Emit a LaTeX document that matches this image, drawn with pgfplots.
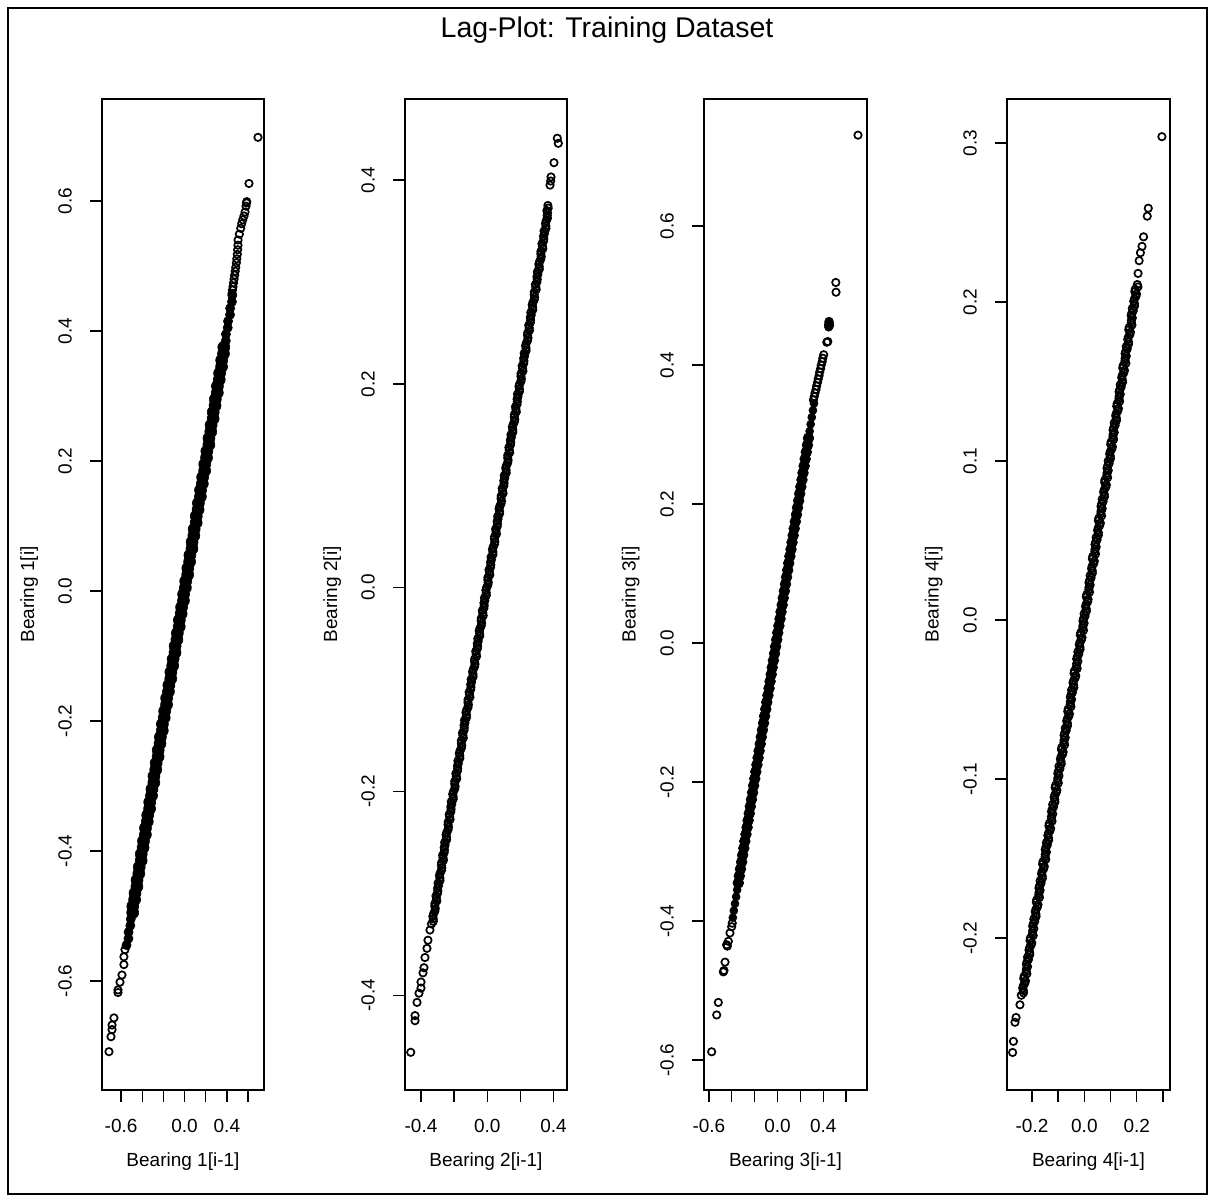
\documentclass[border=0pt]{standalone}
\usepackage{fontspec}
\setmainfont{Liberation Sans}
\usepackage{pgfplots}
\pgfplotsset{compat=1.18}
\newcommand{\rfont}{\fontsize{9.5pt}{11pt}\selectfont}
\pgfplotsset{
  rbase/.style={
    scale only axis, anchor=south west,
    height=495.5pt,
    axis line style={line width=0.7pt},
    tick style={black, line width=0.7pt},
    major tick length=6pt, tick align=outside,
    xtick pos=bottom, ytick pos=left,
    minor tick num=0, scaled ticks=false,
    xticklabel style={anchor=center, yshift=-12pt, font=\rfont},
    yticklabel style={xshift=-12.5pt, rotate=90, anchor=center, font=\rfont},
    label style={font=\rfont},
    xlabel style={at={(axis description cs:0.5,-0.0726)}, anchor=center},
    ylabel style={at={(axis description cs:-0.45,0.5)}, anchor=center},
  },
  opn/.style={only marks, mark=o, mark size=1.85pt, mark options={line width=0.85pt}, black},
  fld/.style={only marks, mark=*, mark size=#1, mark options={line width=0.3pt, fill=black}, black},
}
\begin{document}
\begin{tikzpicture}
\path (0,0) rectangle (606.5pt,600pt);
\draw[line width=1pt] (4pt,3pt) rectangle (603.5pt,596pt);
\node[font=\fontsize{14.25pt}{17pt}\selectfont] at (303.5pt,585pt) {Lag-Plot: Training Dataset};

% ---------------- Panel 1 ----------------
\begin{axis}[rbase, at={(51pt,55pt)}, width=81pt,
  xmin=-0.780, xmax=0.751, ymin=-0.768, ymax=0.757,
  xtick={-0.6,-0.4,-0.2,0,0.2,0.4,0.6}, xticklabels={-0.6,{},{},0.0,{},0.4,{}},
  ytick={-0.6,-0.4,-0.2,0,0.2,0.4,0.6}, yticklabels={-0.6,-0.4,-0.2,0.0,0.2,0.4,0.6},
  xlabel={Bearing 1[i-1]}, ylabel={Bearing 1[i]}]
\addplot[fld=3pt] coordinates {
(-0.490,-0.495)(-0.489,-0.485)(-0.472,-0.475)(-0.468,-0.465)(-0.450,-0.455)(-0.449,-0.445)
(-0.432,-0.435)(-0.428,-0.425)(-0.410,-0.415)(-0.409,-0.405)(-0.392,-0.395)(-0.388,-0.385)
(-0.370,-0.375)(-0.369,-0.365)(-0.352,-0.355)(-0.348,-0.345)(-0.330,-0.335)(-0.329,-0.325)
(-0.312,-0.315)(-0.308,-0.305)(-0.290,-0.295)(-0.289,-0.285)(-0.272,-0.275)(-0.268,-0.265)
(-0.250,-0.255)(-0.249,-0.245)(-0.232,-0.235)(-0.228,-0.225)(-0.210,-0.215)(-0.209,-0.205)
(-0.192,-0.195)(-0.188,-0.185)(-0.170,-0.175)(-0.169,-0.165)(-0.152,-0.155)(-0.148,-0.145)
(-0.130,-0.135)(-0.129,-0.125)(-0.112,-0.115)(-0.108,-0.105)(-0.090,-0.095)(-0.089,-0.085)
(-0.072,-0.075)(-0.068,-0.065)(-0.050,-0.055)(-0.049,-0.045)(-0.032,-0.035)(-0.028,-0.025)
(-0.010,-0.015)(-0.009,-0.005)(0.008,0.005)(0.011,0.015)(0.030,0.025)(0.031,0.035)
(0.048,0.045)(0.051,0.055)(0.070,0.065)(0.071,0.075)(0.088,0.085)(0.091,0.095)
(0.110,0.105)(0.111,0.115)(0.128,0.125)(0.131,0.135)(0.150,0.145)(0.151,0.155)
(0.168,0.165)(0.171,0.175)(0.190,0.185)(0.191,0.195)(0.208,0.205)(0.211,0.215)
(0.230,0.225)(0.231,0.235)(0.248,0.245)(0.251,0.255)(0.270,0.265)(0.271,0.275)
(0.288,0.285)(0.291,0.295)(0.310,0.305)(0.311,0.315)(0.328,0.325)(0.331,0.335)
(0.350,0.345)(0.351,0.355)(0.368,0.365)(0.371,0.375)
};
\addplot[fld=2.3pt] coordinates {
(-0.548,-0.545)(-0.530,-0.535)(-0.529,-0.525)(-0.512,-0.515)(-0.508,-0.505)
(0.390,0.385)(0.391,0.395)(0.408,0.405)(0.411,0.415)(0.430,0.425)(0.431,0.435)(0.448,0.445)(0.451,0.455)
};
\addplot[opn] coordinates {
(-0.714,-0.709)(-0.695,-0.686)(-0.685,-0.675)(-0.685,-0.668)(-0.667,-0.657)(-0.629,-0.618)
(-0.629,-0.614)(-0.610,-0.602)(-0.591,-0.591)(-0.573,-0.575)(-0.573,-0.563)(-0.563,-0.552)
(0.449,0.458)(0.453,0.463)(0.458,0.468)(0.463,0.474)(0.468,0.480)(0.474,0.486)(0.479,0.492)
(0.484,0.498)(0.490,0.505)(0.494,0.511)(0.499,0.518)(0.502,0.525)(0.505,0.532)(0.506,0.540)
(0.518,0.549)(0.531,0.558)(0.540,0.565)(0.550,0.571)(0.562,0.577)(0.572,0.583)(0.581,0.592)
(0.586,0.597)(0.588,0.599)(0.609,0.627)(0.694,0.698)
};
\end{axis}

% ---------------- Panel 2 ----------------
\begin{axis}[rbase, at={(202.5pt,55pt)}, width=81pt,
  xmin=-0.4966, xmax=0.4815, ymin=-0.493, ymax=0.4795,
  xtick={-0.4,-0.2,0,0.2,0.4}, xticklabels={-0.4,{},0.0,{},0.4},
  ytick={-0.4,-0.2,0,0.2,0.4}, yticklabels={-0.4,-0.2,0.0,0.2,0.4},
  xlabel={Bearing 2[i-1]}, ylabel={Bearing 2[i]}]
\addplot[opn] coordinates {
(-0.462,-0.456)(-0.436,-0.425)(-0.436,-0.420)(-0.424,-0.407)(-0.412,-0.398)(-0.400,-0.393)
(-0.400,-0.387)(-0.388,-0.378)(-0.382,-0.373)(-0.376,-0.363)(-0.364,-0.354)(-0.358,-0.346)
(-0.346,-0.336)
(-0.337,-0.330)(-0.326,-0.325)(-0.324,-0.320)(-0.314,-0.315)(-0.316,-0.310)(-0.307,-0.305)
(-0.300,-0.300)(-0.300,-0.295)(-0.297,-0.290)(-0.286,-0.285)(-0.284,-0.280)(-0.274,-0.275)
(-0.276,-0.270)(-0.267,-0.265)(-0.260,-0.260)(-0.260,-0.255)(-0.257,-0.250)(-0.246,-0.245)
(-0.244,-0.240)(-0.234,-0.235)(-0.236,-0.230)(-0.227,-0.225)(-0.220,-0.220)(-0.220,-0.215)
(-0.217,-0.210)(-0.206,-0.205)(-0.204,-0.200)(-0.194,-0.195)(-0.196,-0.190)(-0.187,-0.185)
(-0.180,-0.180)(-0.180,-0.175)(-0.177,-0.170)(-0.166,-0.165)(-0.164,-0.160)(-0.154,-0.155)
(-0.156,-0.150)(-0.147,-0.145)(-0.140,-0.140)(-0.140,-0.135)(-0.137,-0.130)(-0.126,-0.125)
(-0.124,-0.120)(-0.114,-0.115)(-0.116,-0.110)(-0.107,-0.105)(-0.100,-0.100)(-0.100,-0.095)
(-0.097,-0.090)(-0.086,-0.085)(-0.084,-0.080)(-0.074,-0.075)(-0.076,-0.070)(-0.067,-0.065)
(-0.060,-0.060)(-0.060,-0.055)(-0.057,-0.050)(-0.046,-0.045)(-0.044,-0.040)(-0.034,-0.035)
(-0.036,-0.030)(-0.027,-0.025)(-0.020,-0.020)(-0.020,-0.015)(-0.017,-0.010)(-0.006,-0.005)
(-0.004,0.000)(0.006,0.005)(0.004,0.010)(0.013,0.015)(0.020,0.020)(0.020,0.025)
(0.023,0.030)(0.034,0.035)(0.036,0.040)(0.046,0.045)(0.044,0.050)(0.053,0.055)
(0.060,0.060)(0.060,0.065)(0.063,0.070)(0.074,0.075)(0.076,0.080)(0.086,0.085)
(0.084,0.090)(0.093,0.095)(0.100,0.100)(0.100,0.105)(0.103,0.110)(0.114,0.115)
(0.116,0.120)(0.126,0.125)(0.124,0.130)(0.133,0.135)(0.140,0.140)(0.140,0.145)
(0.143,0.150)(0.154,0.155)(0.156,0.160)(0.166,0.165)(0.164,0.170)(0.173,0.175)
(0.180,0.180)(0.180,0.185)(0.183,0.190)(0.194,0.195)(0.196,0.200)(0.206,0.205)
(0.204,0.210)(0.213,0.215)(0.220,0.220)(0.220,0.225)(0.223,0.230)(0.234,0.235)
(0.236,0.240)(0.246,0.245)(0.244,0.250)(0.253,0.255)(0.260,0.260)(0.260,0.265)
(0.263,0.270)(0.274,0.275)(0.276,0.280)(0.286,0.285)(0.284,0.290)(0.293,0.295)
(0.300,0.300)(0.300,0.305)(0.303,0.310)(0.314,0.315)(0.316,0.320)(0.326,0.325)
(0.324,0.330)(0.333,0.335)(0.340,0.340)(0.340,0.345)(0.343,0.350)(0.354,0.355)
(0.356,0.360)(0.362,0.365)(0.360,0.370)(0.366,0.375)
(0.379,0.395)(0.383,0.399)(0.385,0.403)(0.403,0.417)(0.423,0.441)(0.429,0.436)
};
\addplot[opn] coordinates {
(-0.3255,-0.3275)(-0.3285,-0.3225)(-0.3165,-0.3175)(-0.3165,-0.3125)(-0.3045,-0.3075)(-0.3095,-0.3025)
(-0.2985,-0.2975)(-0.2945,-0.2925)(-0.2855,-0.2875)(-0.2885,-0.2825)(-0.2765,-0.2775)(-0.2765,-0.2725)
(-0.2645,-0.2675)(-0.2695,-0.2625)(-0.2585,-0.2575)(-0.2545,-0.2525)(-0.2455,-0.2475)(-0.2485,-0.2425)
(-0.2365,-0.2375)(-0.2365,-0.2325)(-0.2245,-0.2275)(-0.2295,-0.2225)(-0.2185,-0.2175)(-0.2145,-0.2125)
(-0.2055,-0.2075)(-0.2085,-0.2025)(-0.1965,-0.1975)(-0.1965,-0.1925)(-0.1845,-0.1875)(-0.1895,-0.1825)
(-0.1785,-0.1775)(-0.1745,-0.1725)(-0.1655,-0.1675)(-0.1685,-0.1625)(-0.1565,-0.1575)(-0.1565,-0.1525)
(-0.1445,-0.1475)(-0.1495,-0.1425)(-0.1385,-0.1375)(-0.1345,-0.1325)(-0.1255,-0.1275)(-0.1285,-0.1225)
(-0.1165,-0.1175)(-0.1165,-0.1125)(-0.1045,-0.1075)(-0.1095,-0.1025)(-0.0985,-0.0975)(-0.0945,-0.0925)
(-0.0855,-0.0875)(-0.0885,-0.0825)(-0.0765,-0.0775)(-0.0765,-0.0725)(-0.0645,-0.0675)(-0.0695,-0.0625)
(-0.0585,-0.0575)(-0.0545,-0.0525)(-0.0455,-0.0475)(-0.0485,-0.0425)(-0.0365,-0.0375)(-0.0365,-0.0325)
(-0.0245,-0.0275)(-0.0295,-0.0225)(-0.0185,-0.0175)(-0.0145,-0.0125)(-0.0055,-0.0075)(-0.0085,-0.0025)
(0.0035,0.0025)(0.0035,0.0075)(0.0155,0.0125)(0.0105,0.0175)(0.0215,0.0225)(0.0255,0.0275)
(0.0345,0.0325)(0.0315,0.0375)(0.0435,0.0425)(0.0435,0.0475)(0.0555,0.0525)(0.0505,0.0575)
(0.0615,0.0625)(0.0655,0.0675)(0.0745,0.0725)(0.0715,0.0775)(0.0835,0.0825)(0.0835,0.0875)
(0.0955,0.0925)(0.0905,0.0975)(0.1015,0.1025)(0.1055,0.1075)(0.1145,0.1125)(0.1115,0.1175)
(0.1235,0.1225)(0.1235,0.1275)(0.1355,0.1325)(0.1305,0.1375)(0.1415,0.1425)(0.1455,0.1475)
(0.1545,0.1525)(0.1515,0.1575)(0.1635,0.1625)(0.1635,0.1675)(0.1755,0.1725)(0.1705,0.1775)
(0.1815,0.1825)(0.1855,0.1875)(0.1945,0.1925)(0.1915,0.1975)(0.2035,0.2025)(0.2035,0.2075)
(0.2155,0.2125)(0.2105,0.2175)(0.2215,0.2225)(0.2255,0.2275)(0.2345,0.2325)(0.2315,0.2375)
(0.2435,0.2425)(0.2435,0.2475)(0.2555,0.2525)(0.2505,0.2575)(0.2615,0.2625)(0.2655,0.2675)
(0.2745,0.2725)(0.2715,0.2775)(0.2835,0.2825)(0.2835,0.2875)(0.2955,0.2925)(0.2905,0.2975)
(0.3015,0.3025)(0.3055,0.3075)(0.3145,0.3125)(0.3115,0.3175)(0.3235,0.3225)(0.3235,0.3275)
(0.3355,0.3325)(0.3305,0.3375)(0.3415,0.3425)(0.3455,0.3475)(0.3545,0.3525)(0.3515,0.3575)
(0.3635,0.3625)(0.3635,0.3675)(0.3680,0.3725)
};
\end{axis}

% ---------------- Panel 3 ----------------
\begin{axis}[rbase, at={(352pt,55pt)}, width=81.5pt,
  xmin=-0.643, xmax=0.783, ymin=-0.643, ymax=0.783,
  xtick={-0.6,-0.4,-0.2,0,0.2,0.4,0.6}, xticklabels={-0.6,{},{},0.0,{},0.4,{}},
  ytick={-0.6,-0.4,-0.2,0,0.2,0.4,0.6}, yticklabels={-0.6,-0.4,-0.2,0.0,0.2,0.4,0.6},
  xlabel={Bearing 3[i-1]}, ylabel={Bearing 3[i]}]
\addplot[fld=2.7pt] coordinates {
(-0.343,-0.345)(-0.334,-0.335)(-0.324,-0.325)(-0.314,-0.315)(-0.305,-0.305)(-0.295,-0.295)
(-0.286,-0.285)(-0.276,-0.275)(-0.266,-0.265)(-0.257,-0.255)(-0.247,-0.245)(-0.238,-0.235)
(-0.228,-0.225)(-0.218,-0.215)(-0.209,-0.205)(-0.199,-0.195)(-0.190,-0.185)(-0.180,-0.175)
(-0.170,-0.165)(-0.161,-0.155)(-0.151,-0.145)(-0.142,-0.135)(-0.132,-0.125)(-0.122,-0.115)
(-0.113,-0.105)(-0.103,-0.095)(-0.094,-0.085)(-0.084,-0.075)(-0.074,-0.065)(-0.065,-0.055)
(-0.055,-0.045)(-0.046,-0.035)(-0.036,-0.025)(-0.026,-0.015)(-0.017,-0.005)(-0.007,0.005)
(0.002,0.015)(0.012,0.025)(0.022,0.035)(0.031,0.045)(0.041,0.055)(0.050,0.065)
(0.060,0.075)(0.070,0.085)(0.079,0.095)(0.089,0.105)(0.098,0.115)(0.108,0.125)
(0.118,0.135)(0.127,0.145)(0.137,0.155)(0.146,0.165)(0.156,0.175)(0.166,0.185)
(0.175,0.195)(0.185,0.205)(0.194,0.215)(0.204,0.225)(0.214,0.235)(0.223,0.245)
(0.233,0.255)(0.242,0.265)(0.252,0.275)(0.262,0.285)(0.271,0.295)
};
\addplot[fld=2pt] coordinates {
(-0.391,-0.395)(-0.382,-0.385)(-0.372,-0.375)(-0.362,-0.365)(-0.353,-0.355)
(0.281,0.305)(0.290,0.315)(0.300,0.325)(0.310,0.335)(0.319,0.345)
};
\addplot[opn] coordinates {
(-0.576,-0.588)(-0.532,-0.535)(-0.518,-0.517)(-0.474,-0.473)(-0.468,-0.471)(-0.459,-0.459)
(-0.439,-0.436)(-0.445,-0.434)(-0.430,-0.429)(-0.416,-0.417)(-0.401,-0.408)(-0.396,-0.403)
(0.314,0.350)(0.322,0.355)(0.328,0.360)(0.337,0.365)(0.342,0.370)(0.350,0.375)(0.356,0.380)
(0.364,0.385)(0.369,0.390)(0.377,0.395)(0.382,0.400)(0.391,0.405)(0.396,0.410)(0.404,0.415)
(0.431,0.433)(0.440,0.434)(0.446,0.458)(0.450,0.462)(0.453,0.460)(0.448,0.455)(0.455,0.457)
(0.451,0.463)(0.512,0.505)(0.510,0.519)(0.704,0.731)
};
\end{axis}

% ---------------- Panel 4 ----------------
\begin{axis}[rbase, at={(503.5pt,55pt)}, width=81.5pt,
  xmin=-0.2954, xmax=0.327, ymin=-0.2956, ymax=0.3277,
  xtick={-0.2,-0.1,0,0.1,0.2,0.3}, xticklabels={-0.2,{},0.0,{},0.2,{}},
  ytick={-0.2,-0.1,0,0.1,0.2,0.3}, yticklabels={-0.2,-0.1,0.0,0.1,0.2,0.3},
  xlabel={Bearing 4[i-1]}, ylabel={Bearing 4[i]}]
\addplot[opn] coordinates {
(-0.274,-0.272)(-0.271,-0.265)(-0.265,-0.253)(-0.261,-0.250)(-0.246,-0.242)
(-0.241,-0.236)(-0.233,-0.233)(-0.233,-0.230)(-0.225,-0.227)(-0.230,-0.224)(-0.222,-0.221)
(-0.217,-0.218)(-0.219,-0.215)(-0.217,-0.212)(-0.209,-0.209)(-0.209,-0.206)(-0.201,-0.203)
(-0.206,-0.200)(-0.198,-0.197)(-0.193,-0.194)(-0.195,-0.191)(-0.193,-0.188)(-0.185,-0.185)
(-0.185,-0.182)(-0.177,-0.179)(-0.182,-0.176)(-0.174,-0.173)(-0.169,-0.170)(-0.171,-0.167)
(-0.169,-0.164)(-0.161,-0.161)(-0.161,-0.158)(-0.153,-0.155)(-0.158,-0.152)(-0.150,-0.149)
(-0.145,-0.146)(-0.147,-0.143)(-0.145,-0.140)(-0.137,-0.137)(-0.137,-0.134)(-0.129,-0.131)
(-0.134,-0.128)(-0.126,-0.125)(-0.121,-0.122)(-0.123,-0.119)(-0.121,-0.116)(-0.113,-0.113)
(-0.113,-0.110)(-0.105,-0.107)(-0.110,-0.104)(-0.102,-0.101)(-0.097,-0.098)(-0.099,-0.095)
(-0.097,-0.092)(-0.089,-0.089)(-0.089,-0.086)(-0.081,-0.083)(-0.086,-0.080)(-0.078,-0.077)
(-0.073,-0.074)(-0.075,-0.071)(-0.073,-0.068)(-0.065,-0.065)(-0.065,-0.062)(-0.057,-0.059)
(-0.062,-0.056)(-0.054,-0.053)(-0.049,-0.050)(-0.051,-0.047)(-0.049,-0.044)(-0.041,-0.041)
(-0.041,-0.038)(-0.033,-0.035)(-0.038,-0.032)(-0.030,-0.029)(-0.025,-0.026)(-0.027,-0.023)
(-0.025,-0.020)(-0.017,-0.017)(-0.017,-0.014)(-0.009,-0.011)(-0.014,-0.008)(-0.006,-0.005)
(-0.001,-0.002)(-0.003,0.001)(-0.001,0.004)(0.007,0.007)(0.007,0.010)(0.014,0.013)
(0.009,0.016)(0.017,0.019)(0.022,0.022)(0.020,0.025)(0.022,0.028)(0.030,0.031)
(0.030,0.034)(0.038,0.037)(0.032,0.040)(0.040,0.043)(0.045,0.046)(0.043,0.049)
(0.045,0.052)(0.053,0.055)(0.053,0.058)(0.061,0.061)(0.055,0.064)(0.063,0.067)
(0.068,0.070)(0.066,0.073)(0.068,0.076)(0.076,0.079)(0.076,0.082)(0.084,0.085)
(0.078,0.088)(0.086,0.091)(0.091,0.094)(0.089,0.097)(0.091,0.100)(0.099,0.103)
(0.099,0.106)(0.107,0.109)(0.102,0.112)(0.109,0.115)(0.114,0.118)(0.112,0.121)
(0.114,0.124)(0.122,0.127)(0.122,0.130)(0.130,0.133)(0.125,0.136)(0.132,0.139)
(0.137,0.142)(0.135,0.145)(0.137,0.148)(0.145,0.151)(0.145,0.154)(0.153,0.157)
(0.148,0.160)(0.155,0.163)(0.160,0.166)(0.158,0.169)(0.160,0.172)(0.168,0.175)
(0.168,0.178)(0.176,0.181)(0.171,0.184)(0.179,0.187)(0.183,0.190)(0.181,0.193)
(0.183,0.196)(0.191,0.199)(0.191,0.202)(0.199,0.205)(0.194,0.208)(0.202,0.211)
(0.205,0.218)(0.209,0.226)(0.214,0.231)(0.220,0.235)(0.226,0.241)(0.240,0.254)
(0.244,0.259)(0.296,0.304)
};
\addplot[opn] coordinates {
(-0.2325,-0.2345)(-0.2355,-0.2315)(-0.2275,-0.2285)(-0.2315,-0.2255)(-0.2195,-0.2225)(-0.2215,-0.2195)
(-0.2215,-0.2165)(-0.2135,-0.2135)(-0.2085,-0.2105)(-0.2115,-0.2075)(-0.2035,-0.2045)(-0.2075,-0.2015)
(-0.1955,-0.1985)(-0.1975,-0.1955)(-0.1975,-0.1925)(-0.1895,-0.1895)(-0.1845,-0.1865)(-0.1875,-0.1835)
(-0.1795,-0.1805)(-0.1835,-0.1775)(-0.1715,-0.1745)(-0.1735,-0.1715)(-0.1735,-0.1685)(-0.1655,-0.1655)
(-0.1605,-0.1625)(-0.1635,-0.1595)(-0.1555,-0.1565)(-0.1595,-0.1535)(-0.1475,-0.1505)(-0.1495,-0.1475)
(-0.1495,-0.1445)(-0.1415,-0.1415)(-0.1365,-0.1385)(-0.1395,-0.1355)(-0.1315,-0.1325)(-0.1355,-0.1295)
(-0.1235,-0.1265)(-0.1255,-0.1235)(-0.1255,-0.1205)(-0.1175,-0.1175)(-0.1125,-0.1145)(-0.1155,-0.1115)
(-0.1075,-0.1085)(-0.1115,-0.1055)(-0.0995,-0.1025)(-0.1015,-0.0995)(-0.1015,-0.0965)(-0.0935,-0.0935)
(-0.0885,-0.0905)(-0.0915,-0.0875)(-0.0835,-0.0845)(-0.0875,-0.0815)(-0.0755,-0.0785)(-0.0775,-0.0755)
(-0.0775,-0.0725)(-0.0695,-0.0695)(-0.0645,-0.0665)(-0.0675,-0.0635)(-0.0595,-0.0605)(-0.0635,-0.0575)
(-0.0515,-0.0545)(-0.0535,-0.0515)(-0.0535,-0.0485)(-0.0455,-0.0455)(-0.0405,-0.0425)(-0.0435,-0.0395)
(-0.0355,-0.0365)(-0.0395,-0.0335)(-0.0275,-0.0305)(-0.0295,-0.0275)(-0.0295,-0.0245)(-0.0215,-0.0215)
(-0.0165,-0.0185)(-0.0195,-0.0155)(-0.0115,-0.0125)(-0.0155,-0.0095)(-0.0035,-0.0065)(-0.0055,-0.0035)
(-0.0055,-0.0005)(0.0025,0.0025)(0.0075,0.0055)(0.0045,0.0085)(0.0125,0.0115)(0.0075,0.0145)
(0.0195,0.0175)(0.0175,0.0205)(0.0175,0.0235)(0.0255,0.0265)(0.0305,0.0295)(0.0275,0.0325)
(0.0355,0.0355)(0.0305,0.0385)(0.0425,0.0415)(0.0405,0.0445)(0.0405,0.0475)(0.0485,0.0505)
(0.0535,0.0535)(0.0505,0.0565)(0.0585,0.0595)(0.0535,0.0625)(0.0655,0.0655)(0.0635,0.0685)
(0.0635,0.0715)(0.0715,0.0745)(0.0765,0.0775)(0.0735,0.0805)(0.0815,0.0835)(0.0775,0.0865)
(0.0885,0.0895)(0.0865,0.0925)(0.0865,0.0955)(0.0945,0.0985)(0.0995,0.1015)(0.0965,0.1045)
(0.1045,0.1075)(0.1005,0.1105)(0.1115,0.1135)(0.1095,0.1165)(0.1095,0.1195)(0.1175,0.1225)
(0.1225,0.1255)(0.1195,0.1285)(0.1275,0.1315)(0.1235,0.1345)(0.1345,0.1375)(0.1325,0.1405)
(0.1325,0.1435)(0.1405,0.1465)(0.1455,0.1495)(0.1425,0.1525)(0.1505,0.1555)(0.1465,0.1585)
(0.1585,0.1615)(0.1555,0.1645)(0.1555,0.1675)(0.1635,0.1705)(0.1685,0.1735)(0.1655,0.1765)
(0.1735,0.1795)(0.1695,0.1825)(0.1815,0.1855)(0.1795,0.1885)(0.1785,0.1915)(0.1865,0.1945)
(0.1915,0.1975)(0.1885,0.2005)(0.1965,0.2035)(0.1925,0.2065)(0.2045,0.2095)
};
\end{axis}
\end{tikzpicture}
\end{document}
